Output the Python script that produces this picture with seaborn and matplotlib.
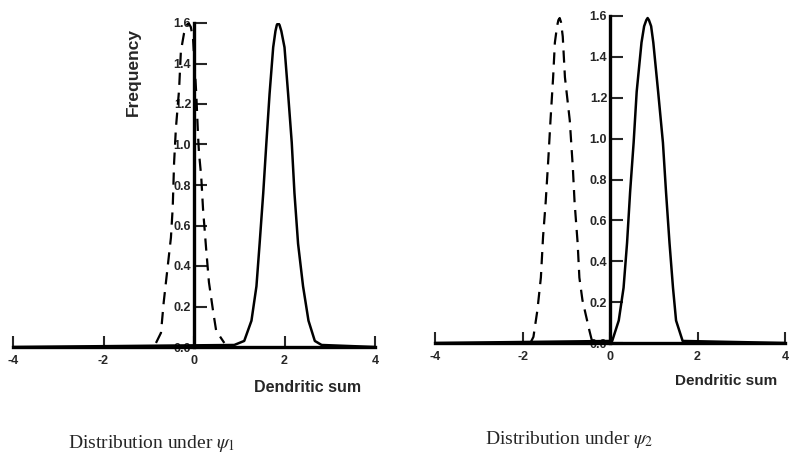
import numpy as np
import pandas as pd
import matplotlib
matplotlib.use("Agg")
import matplotlib.pyplot as plt
import seaborn as sns

sns.set_style("white")
plt.rcParams['font.family'] = ['Liberation Sans', 'DejaVu Sans']
plt.rcParams['mathtext.fontset'] = 'stix'

# curves (dendritic sum, frequency)
left_dash_x = [-0.84, -0.73, -0.67, -0.58, -0.51, -0.47, -0.44, -0.40, -0.33, -0.29, -0.22, -0.16,
               -0.12, -0.07, -0.02, 0.05, 0.09, 0.11, 0.16, 0.20, 0.27, 0.33, 0.42, 0.49, 0.67]
left_dash_y = [0.02, 0.07, 0.22, 0.40, 0.54, 0.69, 0.91, 1.08, 1.27, 1.46, 1.55, 1.59,
               1.60, 1.58, 1.52, 1.25, 1.04, 0.96, 0.84, 0.68, 0.48, 0.32, 0.18, 0.08, 0.02]
left_solid_x = [-4.0, 0.89, 1.11, 1.27, 1.38, 1.45, 1.53, 1.60, 1.67, 1.75, 1.80, 1.83, 1.86, 1.89,
                1.93, 2.00, 2.08, 2.16, 2.22, 2.30, 2.41, 2.53, 2.67, 2.82, 4.0]
left_solid_y = [0.0, 0.01, 0.03, 0.13, 0.30, 0.51, 0.76, 1.01, 1.25, 1.48, 1.56, 1.59, 1.60, 1.59,
                1.56, 1.48, 1.25, 1.01, 0.76, 0.51, 0.30, 0.13, 0.03, 0.01, 0.0]

right_dash_x = [-1.82, -1.75, -1.66, -1.58, -1.53, -1.47, -1.41, -1.36, -1.30, -1.26, -1.21, -1.18,
                -1.15, -1.12, -1.08, -1.03, -0.92, -0.85, -0.81, -0.74, -0.70, -0.63, -0.47, -0.40]
right_dash_y = [0.0, 0.03, 0.16, 0.32, 0.52, 0.69, 0.90, 1.09, 1.30, 1.47, 1.55, 1.58,
                1.59, 1.57, 1.50, 1.30, 1.09, 0.86, 0.69, 0.49, 0.32, 0.21, 0.06, 0.0]
right_solid_x = [-4.0, 0.05, 0.20, 0.31, 0.39, 0.46, 0.54, 0.61, 0.72, 0.78, 0.83, 0.86, 0.89,
                 0.94, 0.99, 1.10, 1.21, 1.28, 1.36, 1.44, 1.51, 1.66, 4.0]
right_solid_y = [0.0, 0.01, 0.11, 0.27, 0.49, 0.74, 0.98, 1.23, 1.47, 1.55, 1.58, 1.59, 1.58,
                 1.55, 1.47, 1.23, 0.98, 0.74, 0.49, 0.27, 0.11, 0.01, 0.0]

x_ticks = [-4, -2, 0, 2, 4]
x_labels = ['-4', '-2', '0', '2', '4']
y_ticks = [0.0, 0.2, 0.4, 0.6, 0.8, 1.0, 1.2, 1.4, 1.6]
y_labels = ['0.0', '0.2', '0.4', '0.6', '0.8', '1.0', '1.2', '1.4', '1.6']

fig = plt.figure(figsize=(7.91, 4.62), dpi=100)
ax1 = fig.add_axes([13/791, 115/462, 362/791, 324/462])
ax2 = fig.add_axes([435/791, 119/462, 350/791, 327/462])

panels = [
    (ax1, left_dash_x, left_dash_y, left_solid_x, left_solid_y),
    (ax2, right_dash_x, right_dash_y, right_solid_x, right_solid_y),
]

for ax, dx, dy, sx, sy in panels:
    ax.set_facecolor('none')
    sns.lineplot(x=dx, y=dy, ax=ax, color='black', lw=1.6, estimator=None)
    ax.lines[-1].set_dashes([5.5, 3.5])
    sns.lineplot(x=sx, y=sy, ax=ax, color='black', lw=1.8, estimator=None)
    ax.set_xlim(-4, 4)
    ax.set_ylim(0, 1.6)
    ax.spines['left'].set_position(('data', 0))
    ax.spines['top'].set_visible(False)
    ax.spines['right'].set_visible(False)
    for s in ['left', 'bottom']:
        ax.spines[s].set_linewidth(2.4)
        ax.spines[s].set_color('black')
        ax.spines[s].set_zorder(5)
    ax.set_xticks(x_ticks)
    ax.set_xticklabels(x_labels, fontsize=9, fontweight='bold')
    ax.set_yticks(y_ticks)
    ax.set_yticklabels(y_labels, fontsize=9, fontweight='bold')
    ax.tick_params(axis='x', direction='in', length=8, width=1.5, pad=6, bottom=True)
    ax.tick_params(axis='y', direction='in', length=9, width=1.5, pad=2, left=True)
    ax.set_xlabel('')
    ax.set_ylabel('')
    ax.grid(False)

fig.text(133/791, 1 - 72/462, 'Frequency', rotation=90, ha='center', va='center',
         fontsize=12.5, fontweight='bold')
fig.text(308/791, 1 - 388/462, 'Dendritic sum', ha='center', va='center',
         fontsize=11.5, fontweight='bold')
fig.text(726/791, 1 - 381/462, 'Dendritic sum', ha='center', va='center',
         fontsize=11, fontweight='bold')
fig.text(152/791, 1 - 444/462, r'Distribution under $\psi_1$', ha='center', va='center',
         fontsize=14, family='Liberation Serif')
fig.text(569/791, 1 - 440/462, r'Distribution under $\psi_2$', ha='center', va='center',
         fontsize=14, family='Liberation Serif')

fig.savefig('out.png', dpi=100)
